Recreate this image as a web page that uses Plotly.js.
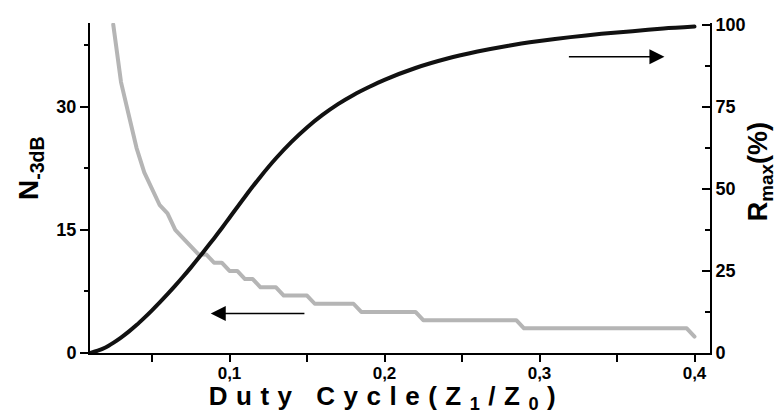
<!DOCTYPE html>
<html>
<head>
<meta charset="utf-8">
<script src="https://cdn.plot.ly/plotly-3.0.1.min.js"></script>
<style>
  html, body { margin: 0; padding: 0; background: #fff; }
  #chart { width: 778px; height: 419px; }
  .scatterlayer .js-line { stroke-linecap: round; stroke-linejoin: round; }
  g.annotation[data-index="2"] text { letter-spacing: 8.5px; }
</style>
</head>
<body>
<div id="chart"></div>
<script>
// Duty cycle samples and the -3 dB bandwidth period count N (left axis)
const dutyN = [0.025,0.03,0.035,0.04,0.045,0.05,0.055,0.06,0.065,0.07,0.075,0.08,0.085,0.09,0.095,
  0.1,0.105,0.11,0.115,0.12,0.125,0.13,0.135,0.14,0.145,0.15,0.155,0.16,0.165,0.17,0.175,0.18,
  0.185,0.19,0.195,0.2,0.205,0.21,0.215,0.22,0.225,0.23,0.235,0.24,0.245,0.25,0.255,0.26,0.265,
  0.27,0.275,0.28,0.285,0.29,0.295,0.3,0.305,0.31,0.315,0.32,0.325,0.33,0.335,0.34,0.345,0.35,
  0.355,0.36,0.365,0.37,0.375,0.38,0.385,0.39,0.395,0.4];
const n3dB = [40,33,29,25,22,20,18,17,15,14,13,12,12,11,11,
  10,10,9,9,8,8,8,7,7,7,7,6,6,6,6,6,6,
  5,5,5,5,5,5,5,5,4,4,4,4,4,4,4,4,4,
  4,4,4,4,3,3,3,3,3,3,3,3,3,3,3,3,3,
  3,3,3,3,3,3,3,3,3,2];

// Duty cycle samples and the maximum reflectance in % (right axis)
const dutyR = [0.01,0.015,0.02,0.025,0.03,0.035,0.04,0.045,0.05,0.055,0.06,0.065,0.07,0.075,0.08,
  0.085,0.09,0.095,0.1,0.11,0.12,0.13,0.14,0.15,0.16,0.17,0.18,0.19,0.2,0.22,0.24,0.26,0.28,
  0.3,0.32,0.34,0.36,0.38,0.4];
const rMax = [0,0.7,1.7,3.1,4.7,6.5,8.5,10.7,13.0,15.4,17.9,20.5,23.2,26.0,28.9,
  31.9,34.9,38.0,41.2,47.6,53.7,59.3,64.3,68.7,72.5,75.8,78.6,81.0,83.2,86.8,89.6,91.8,93.6,
  95.0,96.2,97.2,98.0,98.8,99.4];

// Tick positions and labels
const xTicks = [0.1, 0.2, 0.3, 0.4];
const xTickText = ['0,1', '0,2', '0,3', '0,4'];
const xMinor = [0.05, 0.15, 0.25, 0.35];
const yTicks = [0, 15, 30];
const yTickText = ['0', '15', '30'];
const yMinor = [7.5, 22.5, 37.5];
const y2Ticks = [0, 25, 50, 75, 100];
const y2TickText = ['0', '25', '50', '75', '100'];
const y2Minor = [12.5, 37.5, 62.5, 87.5];

const FONT = 'Liberation Sans, Arial, Helvetica, sans-serif';

const traces = [
  {
    x: dutyN, y: n3dB, yaxis: 'y', type: 'scatter', mode: 'lines',
    line: { color: '#b5b5b5', width: 4 }, hoverinfo: 'skip'
  },
  {
    x: dutyR, y: rMax, yaxis: 'y2', type: 'scatter', mode: 'lines',
    line: { color: '#111111', width: 4, shape: 'spline', smoothing: 0.8 }, hoverinfo: 'skip'
  }
];

const axisCommon = {
  showline: true, linecolor: '#000', linewidth: 2,
  showgrid: false, zeroline: false, mirror: false,
  tickcolor: '#000', tickwidth: 2, fixedrange: true
};

const layout = {
  width: 778, height: 419,
  margin: { l: 90, r: 68, t: 23, b: 66, pad: 0 },
  paper_bgcolor: '#ffffff', plot_bgcolor: '#ffffff',
  showlegend: false,
  font: { family: FONT, size: 18, color: '#000', weight: 700 },
  xaxis: Object.assign({}, axisCommon, {
    range: [0.01, 0.41],
    tickvals: xTicks, ticktext: xTickText,
    ticks: 'outside', ticklen: 7, ticklabelstandoff: -3,
    minor: { tickvals: xMinor, ticks: 'outside', ticklen: 7, tickwidth: 2, tickcolor: '#000' },
    tickfont: { family: FONT, size: 17, weight: 700 }
  }),
  yaxis: Object.assign({}, axisCommon, {
    range: [0, 40.2],
    tickvals: yTicks, ticktext: yTickText,
    ticks: 'outside', ticklen: 8,
    minor: { tickvals: yMinor, ticks: 'outside', ticklen: 4, tickwidth: 2, tickcolor: '#000' },
    tickfont: { family: FONT, size: 18, weight: 700 }
  }),
  yaxis2: Object.assign({}, axisCommon, {
    overlaying: 'y', side: 'right', anchor: 'x',
    range: [0, 100.5],
    tickvals: y2Ticks, ticktext: y2TickText,
    ticks: 'inside', ticklen: 8,
    minor: { tickvals: y2Minor, ticks: 'inside', ticklen: 5, tickwidth: 2, tickcolor: '#000' },
    tickfont: { family: FONT, size: 18, weight: 700 }
  }),
  annotations: [
    // arrow pointing to the left-axis curve
    { xref: 'x', yref: 'y', axref: 'x', ayref: 'y',
      x: 0.0879, y: 4.8, ax: 0.1493, ay: 4.8,
      showarrow: true, arrowhead: 2, arrowsize: 2, arrowwidth: 1.5, arrowcolor: '#000', text: '' },
    // arrow pointing to the right-axis curve
    { xref: 'x', yref: 'y', axref: 'x', ayref: 'y',
      x: 0.3806, y: 36.1, ax: 0.318, ay: 36.1,
      showarrow: true, arrowhead: 2, arrowsize: 2, arrowwidth: 1.5, arrowcolor: '#000', text: '' },
    // axis titles
    { xref: 'paper', yref: 'paper', x: 0.479, y: -0.134, xanchor: 'center', yanchor: 'middle',
      showarrow: false, text: 'Duty Cycle(Z<sub>1</sub>/Z<sub>0</sub>)',
      font: { family: FONT, size: 26, weight: 700, color: '#000' } },
    { xref: 'paper', yref: 'paper', x: -0.097, y: 0.56, xanchor: 'center', yanchor: 'middle',
      textangle: -90, showarrow: false, text: 'N<sub>-3dB</sub>',
      font: { family: FONT, size: 28, weight: 700, color: '#000' } },
    { xref: 'paper', yref: 'paper', x: 1.082, y: 0.55, xanchor: 'center', yanchor: 'middle',
      textangle: -90, showarrow: false, text: 'R<sub>max</sub>(%)',
      font: { family: FONT, size: 27, weight: 700, color: '#000' } }
  ]
};

Plotly.newPlot('chart', traces, layout, { displayModeBar: false, staticPlot: true });
</script>
</body>
</html>
